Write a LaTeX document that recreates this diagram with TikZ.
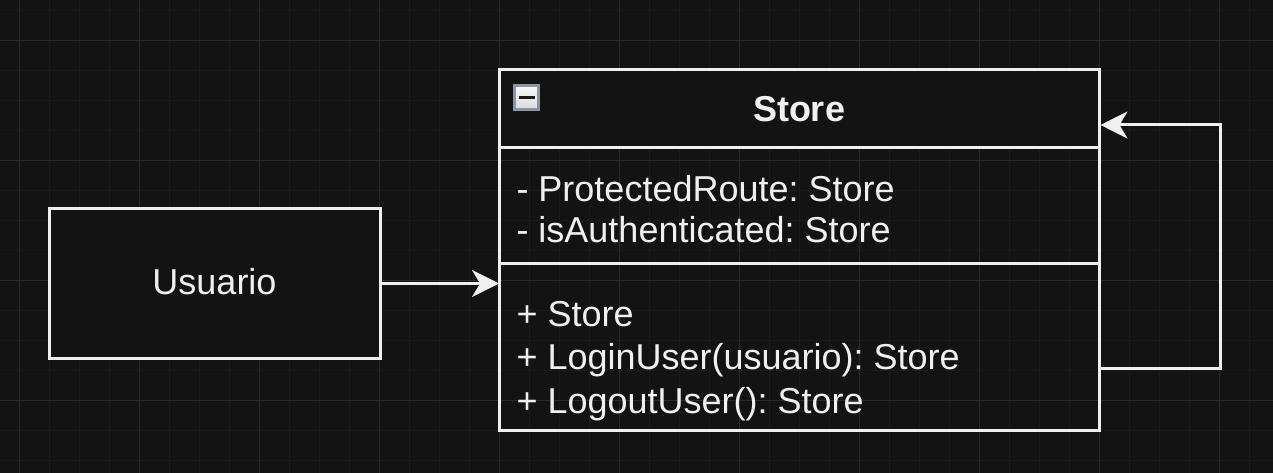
\documentclass[tikz,border=0pt]{standalone}
\usepackage{fontspec}
\setmainfont{Liberation Sans}
\frenchspacing
\usetikzlibrary{arrows.meta}
\definecolor{bg}{HTML}{131313}
\definecolor{gminor}{HTML}{1A1A1A}
\definecolor{gmajor}{HTML}{2A2A2A}
\definecolor{fg}{HTML}{F0F0F0}
\definecolor{iconborder}{HTML}{8A95A6}
\tikzset{
  shapebox/.style={draw=fg, line width=3pt, fill=bg, inner sep=0pt, outer sep=0pt},
  classbox/.style={draw=fg, line width=3pt, inner sep=0pt, outer sep=0pt},
  txt/.style={text=fg, font=\fontsize{36}{43}\selectfont, inner sep=0pt, outer sep=0pt},
  conn/.style={draw=fg, line width=3pt, -{Stealth[length=27pt,width=27pt,inset=8pt]}},
}
\begin{document}
\begin{tikzpicture}[x=1pt,y=-1pt]
\useasboundingbox (0,0) rectangle (1273,473);
\fill[bg] (0,0) rectangle (1273,473);
% grid
\foreach \k in {0,...,42} {
  \draw[gminor, line width=1pt] ({19.3+30*\k},0) -- ({19.3+30*\k},473);
}
\foreach \k in {-1,...,15} {
  \draw[gminor, line width=1pt] (0,{40.3+30*\k}) -- (1273,{40.3+30*\k});
}
\foreach \k in {0,...,10} {
  \draw[gmajor, line width=1pt] ({19.3+120*\k},0) -- ({19.3+120*\k},473);
}
\foreach \k in {0,...,3} {
  \draw[gmajor, line width=1pt] (0,{40.3+120*\k}) -- (1273,{40.3+120*\k});
}
% Usuario
\node[shapebox, minimum width=331pt, minimum height=150pt] (usuario) at (214.5,283) {};
\node[txt, anchor=base] (usuariolabel) at (214.5,294.3) {Usuario};
% Store class
\fill[bg] (499,70) rectangle (1099,148);
\node[classbox, minimum width=600pt, minimum height=360pt] (store) at (799,250) {};
\draw[fg, line width=3pt] (499,148) -- (1099,148);
\draw[fg, line width=3pt] (499,263) -- (1099,263);
\node[txt, anchor=base, font=\fontsize{36}{43}\selectfont\bfseries] (storetitle) at (799,121.7) {Store};
% collapse icon
\shade[top color=white!95!gray, bottom color=white!72!gray, draw=iconborder, line width=3pt] (514.5,85.5) rectangle (538.5,109.5);
\fill[black!90] (518.5,96) rectangle (534.5,99.5);
% attributes
\node[txt, anchor=base west] (attr1) at (516.5,201.7) {- ProtectedRoute: Store};
\node[txt, anchor=base west] (attr2) at (516.5,242.7) {- isAuthenticated: Store};
% methods
\node[txt, anchor=base west] (meth1) at (516.5,326.7) {+ Store};
\node[txt, anchor=base west] (meth2) at (516.5,369.3) {+ LoginUser(usuario): Store};
\node[txt, anchor=base west] (meth3) at (516.5,413.5) {+ LogoutUser(): Store};
% connectors
\coordinate (loopstart) at (1099,368);
\coordinate (loopend) at (1100.5,125);
\draw[conn] (usuario.east |- 0,283.5) -- (store.west |- 0,283.5);
\draw[conn] (loopstart) -- (1220,368) -- (1220,125) -- (loopend);
\end{tikzpicture}
\end{document}
